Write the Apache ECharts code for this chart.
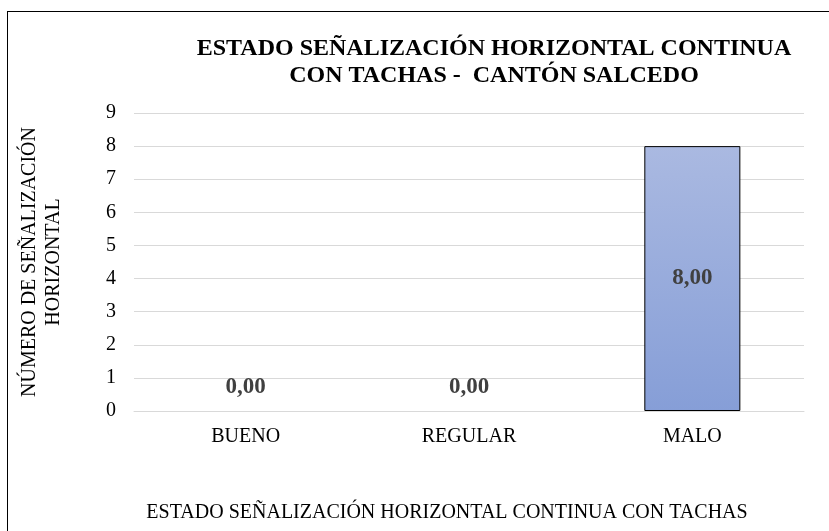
<!DOCTYPE html>
<html>
<head>
<meta charset="utf-8">
<script src="https://cdn.jsdelivr.net/npm/echarts@6/dist/echarts.min.js"></script>
<style>
  html, body { margin: 0; padding: 0; background: #fff; }
  #frame { position: absolute; left: 7px; top: 11px; width: 840px; height: 540px; border: 1.5px solid #000; box-sizing: border-box; }
  #chart { position: absolute; left: 0; top: 0; width: 829px; height: 531px; }
</style>
</head>
<body>
<div id="frame"></div>
<div id="chart"></div>
<script>
const categories = ['BUENO', 'REGULAR', 'MALO'];
const counts = [0, 0, 8];
const yTicks = [0, 9, 1];

const serif = 'Liberation Serif';
const chart = echarts.init(document.getElementById('chart'), null, { renderer: 'canvas' });

chart.setOption({
  animation: false,
  title: {
    text: 'ESTADO SEÑALIZACIÓN HORIZONTAL CONTINUA\nCON TACHAS -  CANTÓN SALCEDO',
    left: 489, top: 30, textAlign: 'center',
    textStyle: { fontFamily: serif, fontWeight: 'bold', fontSize: 24, lineHeight: 27, color: '#000' }
  },
  grid: { left: 134, right: 25, top: 113, bottom: 120, containLabel: false },
  xAxis: {
    type: 'category',
    data: categories,
    axisLine: { show: true, lineStyle: { color: '#d9d9d9', width: 1 } },
    axisTick: { show: false },
    axisLabel: { fontFamily: serif, fontSize: 20, color: '#000', margin: 16 },
    name: 'ESTADO SEÑALIZACIÓN HORIZONTAL CONTINUA CON TACHAS',
    nameLocation: 'middle', nameGap: 92,
    nameTextStyle: { fontFamily: serif, fontSize: 20, color: '#000', padding: [0, 44, 0, 0] }
  },
  yAxis: {
    type: 'value',
    min: yTicks[0], max: yTicks[1], interval: yTicks[2],
    axisLine: { show: false },
    axisTick: { show: false },
    splitLine: { lineStyle: { color: '#d9d9d9', width: 1 } },
    axisLabel: { fontFamily: serif, fontSize: 20, color: '#000', margin: 18 },
    name: 'NÚMERO DE SEÑALIZACIÓN\nHORIZONTAL',
    nameLocation: 'middle', nameGap: 68, nameRotate: 90,
    nameTextStyle: { fontFamily: serif, fontSize: 20, lineHeight: 24, color: '#000' }
  },
  series: [{
    type: 'bar',
    // zero-height bars: no outline, label lifted above the baseline
    data: counts.map(v => ({
      value: v,
      itemStyle: { borderWidth: v ? 1 : 0 },
      label: { offset: [0, v ? 0 : -24] }
    })),
    barWidth: '43%',
    itemStyle: {
      color: new echarts.graphic.LinearGradient(0, 0, 0, 1, [
        { offset: 0, color: '#aab9e1' },
        { offset: 1, color: '#869ed7' }
      ]),
      borderColor: '#000'
    },
    label: {
      show: true,
      position: 'inside',
      formatter: p => p.value.toFixed(2).replace('.', ','),
      fontFamily: serif, fontWeight: 'bold', fontSize: 23, color: '#404040'
    }
  }]
});
</script>
</body>
</html>
